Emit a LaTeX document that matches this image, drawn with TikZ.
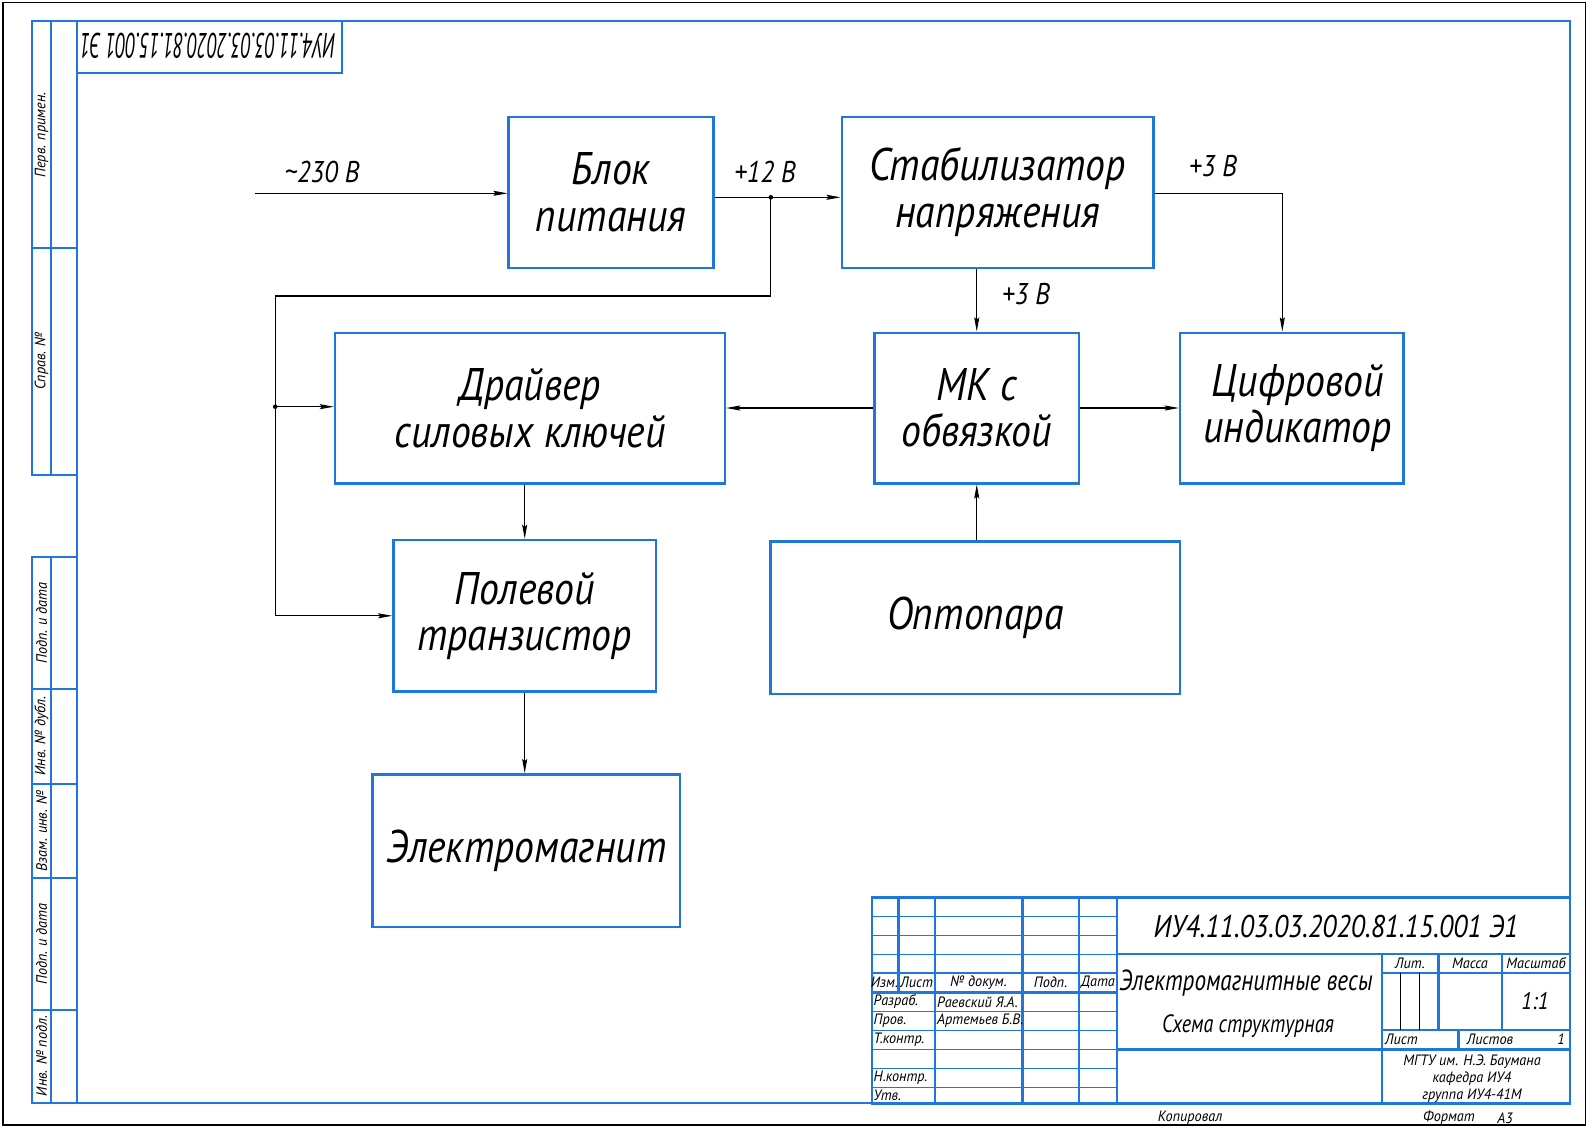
\documentclass[tikz,border=0pt]{standalone}
\usepackage{fontspec}
\setmainfont{PT Sans}
\newfontfamily\gost[FakeStretch=0.87]{PT Sans Italic}
\newfontfamily\gostn[FakeStretch=0.80]{PT Sans Italic}
\newfontfamily\gosts[FakeStretch=0.95]{PT Sans Italic}
\usetikzlibrary{arrows.meta}
\definecolor{gblue}{RGB}{30,120,220}
\begin{document}
\begin{tikzpicture}[x=1pt,y=-1pt,
  thk/.style={draw=gblue,line width=2.4pt},
  thn/.style={draw=gblue,line width=1pt},
  blk/.style={draw=gblue,line width=2.4pt,inner sep=0pt,align=center,
    font=\gost\fontsize{45.7}{46.5}\selectfont},
  conn/.style={draw=black,line width=1.1pt},
  arr/.style={conn,-{Stealth[length=14pt,width=5pt,inset=2pt]}},
  lbl/.style={inner sep=0pt,font=\gost\fontsize{30}{30}\selectfont},
  sml/.style={inner sep=0pt,font=\gosts\fontsize{15}{15}\selectfont},
  dot/.style={fill=black}
]
\useasboundingbox (0,0) rectangle (1592,1127);
\fill[white] (0,0) rectangle (1592,1127);
% outer black border and frame
\draw[line width=1.3pt] (3,2.5) rectangle (1585.5,1125);
\draw[thk] (77,21) rectangle (1570,1103);
% left strips
\draw[thk] (32,21) rectangle (77,475);
\draw[thk] (51,21) -- (51,475);
\draw[thk] (32,248) -- (77,248);
\draw[thk] (32,557) rectangle (77,1103);
\draw[thk] (51,557) -- (51,1103);
\foreach \yy in {689,784,878,1010} \draw[thk] (32,\yy) -- (77,\yy);
\node[sml,rotate=90] (s1) at (41.5,135) {Перв. примен.};
\node[sml,rotate=90] (s2) at (41.5,361) {Справ. №};
\node[sml,rotate=90] (s3) at (41.5,623) {Подп. и дата};
\node[sml,rotate=90] (s4) at (41.5,736) {Инв. № дубл.};
\node[sml,rotate=90] (s5) at (41.5,831) {Взам. инв. №};
\node[sml,rotate=90] (s6) at (41.5,944) {Подп. и дата};
\node[sml,rotate=90] (s7) at (41.5,1056) {Инв. № подл.};
% top-left stamp
\draw[thk] (77,73) -- (342,73) -- (342,21);
\node[rotate=180,inner sep=0pt,font=\gost\fontsize{31.4}{31.4}\selectfont] (stamp) at (208,46)
  {\scalebox{0.70}[1.12]{ИУ4.11.03.03.2020.81.15.001 Э1}};

% blocks
\node[blk,minimum width=204.7pt,minimum height=151pt] (bp) at (611,192.2) {Блок\\питания};
\node[blk,minimum width=311.6pt,minimum height=151pt] (st) at (997.5,192.2) {Стабилизатор\\напряжения};
\node[blk,minimum width=390pt,minimum height=150.6pt] (dr) at (530,408) {Драйвер\\силовых ключей};
\node[blk,minimum width=204.5pt,minimum height=150.6pt] (mk) at (976.75,408) {МК с\\обвязкой};
\node[blk,minimum width=223.3pt,minimum height=150.6pt] (ci) at (1291.7,408) {\hspace*{12pt}Цифровой\\\hspace*{12pt}индикатор};
\node[blk,minimum width=262.7pt,minimum height=151.7pt] (pt) at (524.7,615.8) {Полевой\\транзистор};
\node[blk,minimum width=409.3pt,minimum height=152.3pt] (op) at (975.3,617.8) {Оптопара};
\node[blk,minimum width=307.3pt,minimum height=152.4pt] (em) at (526.3,850.5) {Электромагнит};

% connectors
\coordinate (in) at (254.5,193.3);
\coordinate (j1) at (770.8,197.3);
\coordinate (c1) at (275.2,296);
\coordinate (j2) at (275.2,406.7);
\coordinate (c2) at (1282.3,193.3);
\draw[arr] (in) -- (in -| bp.west);
\draw[arr] (j1 -| bp.east) -- (j1 -| st.west);
\draw[arr] (j1) |- (c1) |- (pt.west);
\draw[arr] (j2) -- (j2 -| dr.west);
\fill[dot] (j1) circle (2.3pt);
\fill[dot] (j2) circle (2.3pt);
\draw[arr] (c2 -| st.east) -- (c2) -- (c2 |- ci.north);
\draw[arr] (st.south -| mk.north) -- (mk.north);
\draw[arr] (mk.west) -- (mk.west -| dr.east);
\draw[arr] (mk.east) -- (ci.west);
\draw[arr] (mk.south |- op.north) -- (mk.south);
\draw[arr] (dr.south -| pt.north) -- (pt.north);
\draw[arr] (pt.south) -- (pt.south |- em.north);

% labels
\node[lbl] (l1) at (322,172) {\textasciitilde 230 В};
\node[lbl] (l2) at (765,172) {+12 В};
\node[lbl] (l3) at (1213,166) {+3 В};
\node[lbl] (l4) at (1026,294) {+3 В};

% title block
\draw[thk] (871.7,897.3) rectangle (1570,1103.3);
\draw[thk] (1117,897.3) -- (1117,1103.3);
\foreach \xx in {935,1022.3,1079} \draw[thk] (\xx,897.3) -- (\xx,1103.3);
\draw[thk] (898.3,897.3) -- (898.3,992.3);
\foreach \yy in {916.7,935,954,1011.3,1030,1049.3,1068.3,1087.3} \draw[thn] (871.7,\yy) -- (1117,\yy);
\draw[thk] (871.7,972.7) -- (1117,972.7);
\draw[thk] (871.7,992.3) -- (1117,992.3);
\draw[thk] (1117,954) -- (1570,954);
\draw[thk] (1117,1049.3) -- (1570,1049.3);
\draw[thk] (1381.7,954) -- (1381.7,1103.3);
\draw[thk] (1381.7,972.7) -- (1570,972.7);
\draw[thk] (1381.7,1030) -- (1570,1030);
\draw[thk] (1438.3,954) -- (1438.3,1030);
\draw[thk] (1501.7,954) -- (1501.7,1030);
\draw[thk] (1458.3,1030) -- (1458.3,1049.3);
\draw[line width=0.9pt] (1400.5,972.7) -- (1400.5,1030);
\draw[line width=0.9pt] (1419.4,972.7) -- (1419.4,1030);

\node[sml] (t1) at (884.5,982.5) {Изм.};
\node[sml] (t2) at (916.6,982.5) {Лист};
\node[sml] (t3) at (978.6,982.5) {№ докум.};
\node[sml] (t4) at (1050.6,982.5) {Подп.};
\node[sml] (t5) at (1098,982.5) {Дата};
\node[sml,anchor=west] (t6) at (873.5,1001.8) {Разраб.};
\node[sml,anchor=west] (t7) at (937,1001.8) {Раевский Я.А.};
\node[sml,anchor=west] (t8) at (873.5,1020.6) {Пров.};
\node[sml,anchor=west] (t9) at (937,1020.6) {Артемьев Б.В.};
\node[sml,anchor=west] (t10) at (873.5,1039.6) {Т.контр.};
\node[sml,anchor=west] (t11) at (873.5,1077.8) {Н.контр.};
\node[sml,anchor=west] (t12) at (873.5,1095.3) {Утв.};

\node[inner sep=0pt,font=\gost\fontsize{31.4}{31.4}\selectfont] (des) at (1336,926) {ИУ4.11.03.03.2020.81.15.001 Э1};
\node[inner sep=0pt,font=\gostn\fontsize{29}{29}\selectfont] (nm) at (1246,983) {Электромагнитные весы};
\node[inner sep=0pt,font=\gostn\fontsize{25}{25}\selectfont] (sc) at (1248,1026) {Схема структурная};
\node[sml] (h1) at (1410,963) {Лит.};
\node[sml] (h2) at (1470,963) {Масса};
\node[sml] (h3) at (1536,963) {Масштаб};
\node[inner sep=0pt,font=\gost\fontsize{24}{24}\selectfont] (sv) at (1535,1001) {1:1};
\node[sml,anchor=west] (h4) at (1385,1039.6) {Лист};
\node[sml] (h5) at (1490,1039.6) {Листов};
\node[sml] (h6) at (1561,1039.6) {1};
\node[sml,align=center] (org) at (1472,1079) {МГТУ им. Н.Э. Баумана\\[2pt]кафедра ИУ4\\[2pt]группа ИУ4-41М};
\node[sml] (b1) at (1190,1118) {Копировал};
\node[sml] (b2) at (1449,1118) {Формат};
\node[sml] (b3) at (1505,1118) {А3};
\end{tikzpicture}
\end{document}
